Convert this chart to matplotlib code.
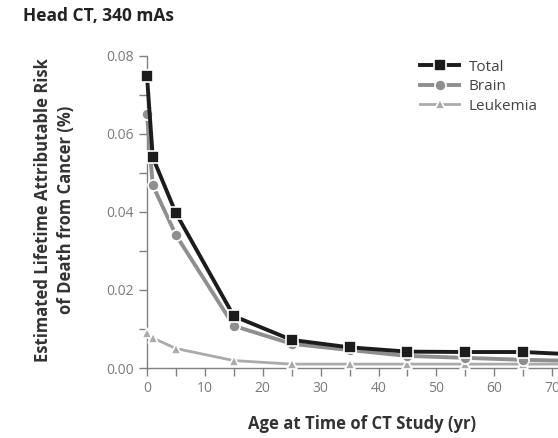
#!/usr/bin/env python3
## Head CT lifetime attributable risk of cancer death by age

import matplotlib
matplotlib.use('Agg')
import matplotlib.pyplot as plt
from matplotlib.ticker import MultipleLocator, FormatStrFormatter

plt.rcParams['font.family'] = ['Open Sans', 'DejaVu Sans']

# ages at time of CT study (yr)
ages = [0, 1, 5, 15, 25, 35, 45, 55, 65, 75]

# estimated risk (%)
total = [0.0749, 0.0540, 0.0397, 0.0133, 0.0072, 0.0053, 0.0042, 0.0041, 0.0041, 0.0034]
brain = [0.0650, 0.0468, 0.0341, 0.0108, 0.0062, 0.0046, 0.0031, 0.0026, 0.0021, 0.0018]
leukemia = [0.0091, 0.0077, 0.0050, 0.0019, 0.0010, 0.0010, 0.0010, 0.0010, 0.0010, 0.0010]

series_names = ['Total', 'Brain', 'Leukemia']

fig = plt.figure(figsize=(5.58, 4.38), dpi=100)
ax = fig.add_axes([0.2634, 0.1598, 0.7366, 0.7124])

ax.plot(ages, leukemia, '-', color='#ababab', lw=2.0, marker='^', ms=7,
        mec='white', mew=1.2, label=series_names[2], clip_on=False, zorder=2)
ax.plot(ages, brain, '-', color='#8f8f8f', lw=2.8, marker='o', ms=8,
        mec='white', mew=1.2, label=series_names[1], clip_on=False, zorder=3)
ax.plot(ages, total, '-', color='#1c1c1c', lw=2.8, marker='s', ms=8,
        mec='white', mew=1.2, label=series_names[0], clip_on=False, zorder=4)

ax.set_xlim(0, 71)
ax.set_ylim(0, 0.08)
ax.xaxis.set_major_locator(MultipleLocator(10))
ax.xaxis.set_minor_locator(MultipleLocator(5))
ax.yaxis.set_major_locator(MultipleLocator(0.02))
ax.yaxis.set_minor_locator(MultipleLocator(0.01))
ax.yaxis.set_major_formatter(FormatStrFormatter('%.2f'))

for side in ['top', 'right']:
    ax.spines[side].set_visible(False)
for side in ['left', 'bottom']:
    ax.spines[side].set_color('#808080')
    ax.spines[side].set_linewidth(1.0)
    ax.spines[side].set_zorder(1)

ax.tick_params(which='both', direction='out', color='#808080', labelcolor='#7a7a7a',
               labelsize=10, length=6, width=1.0)

ax.set_xlabel('Age at Time of CT Study (yr)', fontsize=12, fontweight='bold',
              color='#333333', va='top')
ax.xaxis.set_label_coords(0.523, -0.15)
ax.set_ylabel('Estimated Lifetime Attributable Risk\nof Death from Cancer (%)',
              fontsize=12, fontweight='bold', color='#333333', linespacing=1.35)
ax.yaxis.set_label_coords(-0.175, 0.506)

# legend order as in the picture
handles, labels = ax.get_legend_handles_labels()
order = [2, 1, 0]
leg = ax.legend([handles[i] for i in order], [labels[i] for i in order],
                loc='upper left', bbox_to_anchor=(412 / 558, 1 - 52 / 438),
                bbox_transform=fig.transFigure, frameon=False, borderpad=0,
                fontsize=11, handlelength=2.6, labelspacing=0.3, handletextpad=0.6)
for t in leg.get_texts():
    t.set_color('#444444')

fig.text(23 / 558, 1 - 16 / 438, 'Head CT, 340 mAs', fontsize=12.5, fontweight='bold',
         color='#222222', va='center')

fig.savefig('out.png', dpi=100)
